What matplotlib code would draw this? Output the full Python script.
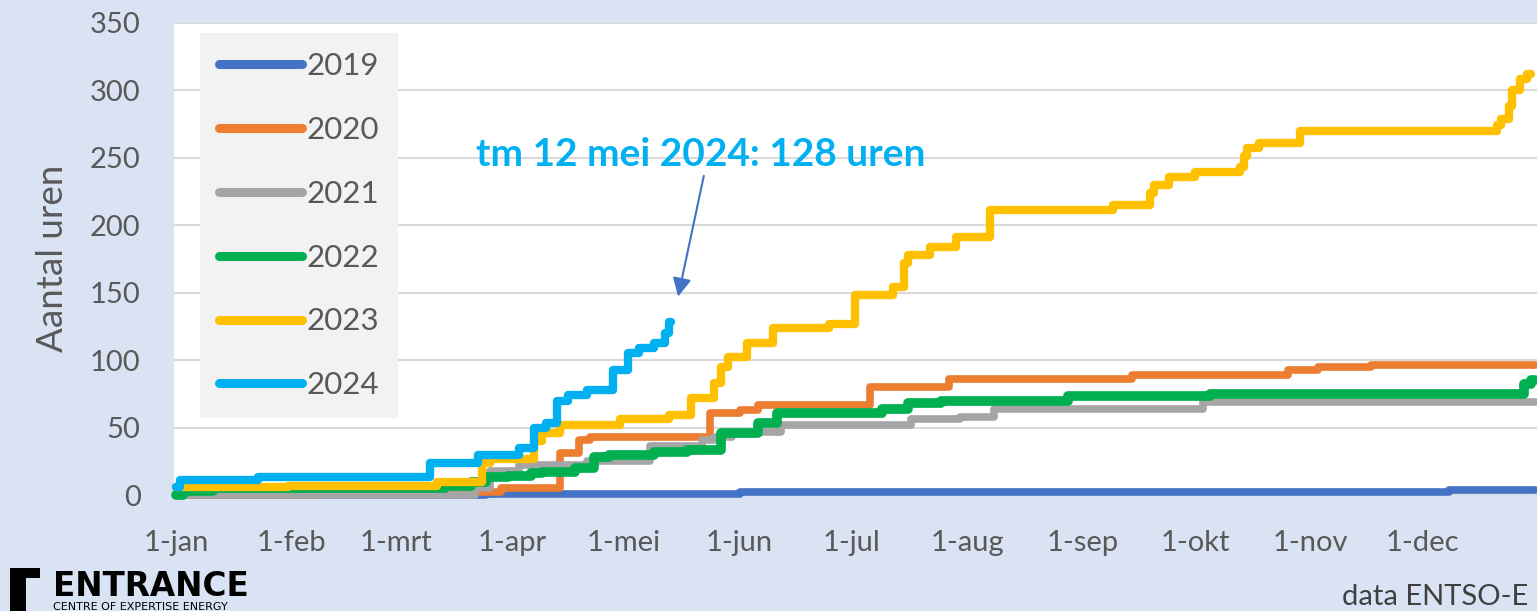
import matplotlib
matplotlib.use('Agg')
import matplotlib.pyplot as plt
from matplotlib.patches import Polygon

plt.rcParams['font.family'] = ['Lato', 'DejaVu Sans']

# ---------------- data (day of year since 1 Jan, cumulative hours) ----------------
month_days = [0, 31, 59, 90, 120, 151, 181, 212, 243, 273, 304, 334]
month_labels = ['1-jan', '1-feb', '1-mrt', '1-apr', '1-mei', '1-jun',
                '1-jul', '1-aug', '1-sep', '1-okt', '1-nov', '1-dec']

years = ['2019', '2020', '2021', '2022', '2023', '2024']

days_2019 = [0, 83, 151, 341, 364]
vals_2019 = [0, 1, 2, 4, 4]

days_2020 = [0, 38, 79, 87, 103, 108, 111, 143, 151, 156, 186, 207, 256, 298, 306, 320, 364]
vals_2020 = [0, 1, 2, 5, 31, 41, 43, 61, 63, 67, 80, 86, 89, 93, 95, 96, 96]

days_2021 = [0, 80, 84, 92, 110, 127, 141, 144, 149, 162, 197, 210, 219, 275, 364]
vals_2021 = [0, 5, 18, 22, 25, 36, 41, 43, 47, 52, 56, 58, 64, 69, 69]

days_2022 = [0, 2, 10, 72, 79, 83, 89, 95, 98, 107, 112, 116, 128, 137, 146, 156, 161,
             189, 196, 205, 239, 277, 361, 363, 364]
vals_2022 = [0, 3, 5, 7, 10, 13, 14, 16, 17, 20, 28, 30, 32, 33, 46, 53, 61,
             64, 68, 70, 73, 75, 82, 85, 85]

days_2023 = [0, 30, 70, 82, 84, 96, 98, 103, 119, 132, 138, 144, 146, 148, 153, 160, 175,
             182, 192, 195, 196, 202, 209, 218, 251, 261, 262, 266, 273, 285, 286, 287,
             290, 301, 354, 355, 357, 358, 360, 362, 363]
vals_2023 = [6, 7, 10, 24, 27, 40, 46, 52, 56, 59, 72, 83, 95, 102, 113, 124, 127,
             148, 154, 172, 178, 184, 191, 211, 215, 224, 230, 236, 239, 243, 251, 257,
             261, 270, 274, 279, 288, 300, 308, 312, 312]

days_2024 = [0, 1, 22, 68, 81, 92, 96, 99, 102, 105, 110, 117, 121, 124, 128, 131, 132, 132.6]
vals_2024 = [6, 11, 13, 24, 30, 35, 50, 53, 70, 74, 78, 93, 105, 109, 113, 120, 128, 128]

colors = ['#4472C4', '#ED7D31', '#A5A5A5', '#00B050', '#FFC000', '#00B0F0']
series_days = [days_2019, days_2020, days_2021, days_2022, days_2023, days_2024]
series_vals = [vals_2019, vals_2020, vals_2021, vals_2022, vals_2023, vals_2024]
widths = [5.5, 5.5, 5.5, 7.0, 6.0, 6.0]

# ---------------- figure ----------------
W, H = 1537, 611
fig = plt.figure(figsize=(W / 100, H / 100), dpi=100, facecolor='#DAE3F3')


def fx(px):
    return px / W


def fy(py):
    return 1 - py / H


ax = fig.add_axes([fx(174), fy(495), fx(1537) - fx(174), fy(22.7) - fy(495)])
ax.set_facecolor('white')
for s in ax.spines.values():
    s.set_visible(False)
ax.set_xlim(-0.54, 364.6)
ax.set_ylim(0, 350)
ax.set_yticks(range(0, 351, 50))
ax.yaxis.grid(True, color='#D9D9D9', lw=1.5)
ax.set_axisbelow(True)
ax.set_xticks(month_days)
ax.set_xticklabels(month_labels)
ax.tick_params(axis='both', length=0, labelsize=21, labelcolor='#595959')
ax.tick_params(axis='y', pad=24)
ax.tick_params(axis='x', pad=25)

for yr, d, v, c, lw in zip(years, series_days, series_vals, colors, widths):
    ax.plot(d, v, drawstyle='steps-post', color=c, lw=lw, solid_capstyle='round',
            solid_joinstyle='round', clip_on=False, label=yr)

leg = ax.legend(loc='upper left', bbox_to_anchor=(fx(200), fy(33)), bbox_transform=fig.transFigure,
                frameon=True, fancybox=False, facecolor='#F2F2F2', edgecolor='none', framealpha=1,
                fontsize=22.5, handlelength=2.65, handletextpad=0.16, labelspacing=1.15,
                borderpad=0.6, borderaxespad=0)
for t in leg.get_texts():
    t.set_color('#595959')
for ln in leg.get_lines():
    ln.set_linewidth(6.5)
    ln.set_solid_capstyle('round')

# annotation
ax.text(140.6, 252, 'tm 12 mei 2024: 128 uren', ha='center', va='center', fontsize=28,
        fontweight='bold', color='#00B0F0')
ax.annotate('', xy=(134.5, 147), xytext=(141.4, 236.5),
            arrowprops=dict(arrowstyle='-|>', color='#4472C4', lw=1.5, mutation_scale=28,
                            shrinkA=0, shrinkB=0))

# axis title
fig.text(fx(53), fy(258), 'Aantal uren', rotation=90, ha='center', va='center',
         fontsize=26.5, color='#595959')

# source
fig.text(fx(1342), fy(605), 'data ENTSO-E', ha='left', va='baseline', fontsize=21, color='#404040')

# logo
fig.text(fx(53), fy(596), 'ENTRANCE', ha='left', va='baseline', fontsize=23.5,
         fontweight='heavy', family='DejaVu Sans', color='black')
fig.text(fx(53), fy(610), 'CENTRE OF EXPERTISE ENERGY', ha='left', va='baseline', fontsize=8,
         family='DejaVu Sans', color='black')
pts = [(10, 568), (40, 568), (40, 578), (26, 578), (26, 620), (10, 620)]
fig.patches.append(Polygon([(fx(x), fy(y)) for x, y in pts], closed=True, transform=fig.transFigure,
                           facecolor='black', edgecolor='none'))

fig.savefig('out.png', dpi=100, facecolor=fig.get_facecolor())
